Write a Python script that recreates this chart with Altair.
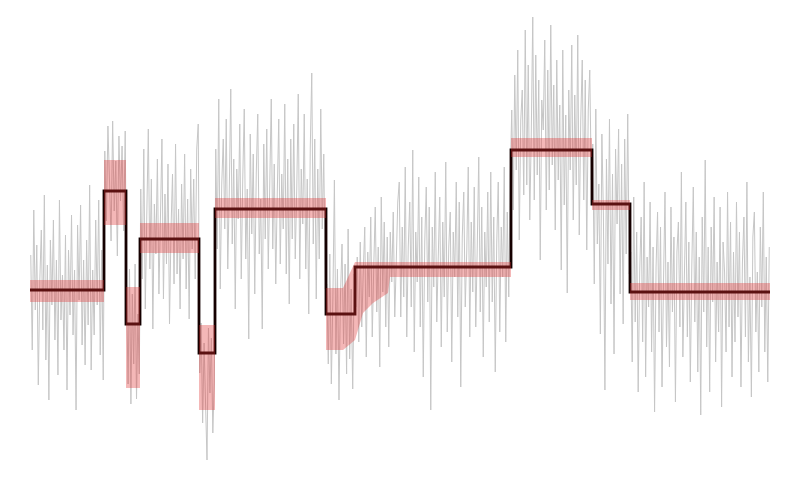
import altair as alt
import pandas as pd

# Step-function levels (signal units) for each segment
levels = [0.00, 0.99, -0.34, 0.51, -0.63, 0.81, -0.24, 0.23, 1.40, 0.86, -0.02]
# Segment boundaries (sample position)
breaks = [0, 37, 48, 55, 84.5, 92.5, 148, 162.5, 240.5, 281, 300, 370]

# Noisy observations, as deviation from the segment level (hundredths)
noise_seg = [
    [35, -60, 80, -20, 45, -95, 10, 60, -40, 95, -70, 25, -110, 50, -15, 70, -50, 30, -85, 90,
     -30, 15, -60, 55, -100, 40, -25, 75, -45, 20, -120, 65, -10, 85, -55, 30, -75,
     50, -35, 105, -80, 20, -45, 70, -15, 90, -65, 40, -90],
    [40, -30, 65, 10, -50, 70, -20, 30, -65, 55, -10, 45, -40, 60],
    [20, -60, 55, -80, 30, -40, 60, -75, 10, -50],
    [50, -40, 90, -70, 25, 110, -30, 60, -90, 35, -15, 80, -55, 20, 100, -60, 45, -25, 75, -85,
     10, 65, -45, 95, -35, 30, -70, 55, -20, 85, -50, 40, -80, 70, -10, 60, -40, 90, 115],
    [-20, 30, -70, 10, -50, -107, 25, -40, 15, -80, -30],
    [60, -40, 110, -80, 25, 70, -20, 90, -60, 15, 120, -35, 50, -100, 40, -10, 85, -70, 30, 100,
     -50, 20, -130, 75, -25, 55, -85, 35, 95, -45, 10, -120, 65, -30, 80, -60, 25, 110, -40, 45,
     -75, 15, 90, -55, 35, -20, 105, -65, 50, -95, 70, -30, 85, -50, 20, 115, -70, 40, -15, 95,
     -60, 30, -105, 60, 136, -35, 70, -90, 40, -50, 100, -20, 55, -80],
    [30, -50, 60, -70, 15, 134, -40, 45, -86, 20, 70, -30, 50, -60, 85, -45, 25, -75, 40],
    [-40, 10, -75, 25, -60, -5, 40, -90, 15, -30, 50, -70, 0, 60, -45, 20, -100, 70, -25, 45,
     -60, 30, -80, 35, -15, 55, -50, 5, 65,
     85, -50, 40, -30, 100, -70, 20, 65, -40, 117, -85, 35, -15, 90, -60, 50, -110, 25, 80, -35,
     60, -143, 40, -20, 95, -55, 10, 70, -80, 45, -30, 105, -65, 20, 55, -95, 35, -10, 85, -50,
     65, -120, 30, 75, -40, 15, 100, -70, 45, -25, 80, -60, 20, 110, -45, 60, -90, 35, -20, 75,
     -55, 95, -35, 50, -105, 25, 85, -65, 40, -10, 100, -75, 55, -30, 90],
    [40, -60, 75, -20, 100, -90, 30, 60, -45, 120, -35, 85, -70, 15, 133, -50, 95, -25, 70, -110,
     50, 20, 110, -60, 80, -40, 125, -15, 65, -80, 90, -30, 45, -120, 100, -55, 35, -143, 60, -20,
     105, -70, 55, -35, 115, -85, 30, 90, -50, 70, -100, 40, 80, -30],
    [60, -80, 95, -40, 20, -130, 70, -10, -186, 45, -60, 85, -100, 30, -150, 55, -20, 75, -90,
     40, -120, 65, -50, 90, -70],
    [40, -70, 95, -30, 60, -100, 20, 75, -50, 110, -85, 35, -15, 90, -60, 45, -120, 25, 80, -40,
     65, -95, 10, 100, -55, 30, -75, 85, -20, 55, -110, 40, 70, -35, 120, -65, 15, 90, -45, 50,
     -90, 25, 105, -30, 60, -80, 35, -123, 75, -20, 132, -55, 45, -100, 65, -10, 95, -70, 30, -40,
     85, -115, 50, 20, -60, 100, -35, 70, -85, 40, -50, 90, -25, 60, -95, 30, 75, -45, 110, -70,
     15, -105, 55, 80, -40, 20, -80, 65, -15, 100, -60, 35, -90, 45],
]

# Uncertainty band key points: sample position, upper, lower
band_t = [0, 37, 37, 48, 48, 55, 55, 84.5, 84.5, 92.5, 92.5, 148, 148, 156.5, 162.5, 166.5,
          171.5, 179, 180, 240.5, 240.5, 281, 281, 300, 300, 370]
band_hi = [0.10, 0.10, 1.30, 1.30, 0.03, 0.03, 0.67, 0.67, -0.35, -0.35, 0.92, 0.92, 0.02, 0.02,
           0.28, 0.28, 0.28, 0.28, 0.28, 0.28, 1.52, 1.52, 0.90, 0.90, 0.07, 0.07]
band_lo = [-0.12, -0.12, 0.65, 0.65, -0.98, -0.98, 0.37, 0.37, -1.20, -1.20, 0.72, 0.72, -0.60,
           -0.60, -0.50, -0.23, -0.13, -0.03, 0.13, 0.13, 1.33, 1.33, 0.80, 0.80, -0.10, -0.10]

# ---- build tables: samples spread evenly over each segment ----
rows = []
for k, (lev, seg) in enumerate(zip(levels, noise_seg)):
    a, b = breaks[k], breaks[k + 1]
    n = len(seg)
    for j, d in enumerate(seg):
        rows.append({"t": a + (j + 0.5) * (b - a) / n, "v": lev + d / 100.0})
noise_df = pd.DataFrame(rows)

step_df = pd.DataFrame({"t": breaks, "v": levels + [levels[-1]]})
band_df = pd.DataFrame({"t": band_t, "hi": band_hi, "lo": band_lo})

xs = alt.Scale(domain=[-11, 381], nice=False, zero=False)
ys = alt.Scale(domain=[-1.82, 2.82], nice=False, zero=False)

noise = alt.Chart(noise_df).mark_line(color="#c6c6c6", strokeWidth=1).encode(
    x=alt.X("t:Q", scale=xs, axis=None),
    y=alt.Y("v:Q", scale=ys, axis=None),
)
step = alt.Chart(step_df).mark_line(interpolate="step-after", color="#150000", strokeWidth=2.8).encode(
    x=alt.X("t:Q", scale=xs, axis=None),
    y=alt.Y("v:Q", scale=ys, axis=None),
)
band = alt.Chart(band_df).mark_area(color="#e03030", opacity=0.35).encode(
    x=alt.X("t:Q", scale=xs, axis=None),
    y=alt.Y("hi:Q", scale=ys, axis=None),
    y2="lo:Q",
)

chart = alt.layer(noise, step, band).properties(
    width=784, height=464, padding=0
).configure_view(stroke=None)

chart.save("out.html", embed_options={"renderer": "svg", "actions": False})
